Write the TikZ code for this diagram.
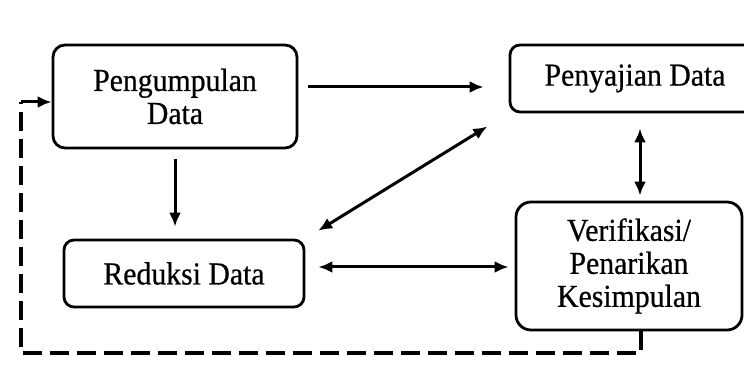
\documentclass[tikz,border=0pt]{standalone}
\usepackage{fontspec}
\setmainfont{Liberation Serif}[FakeStretch=0.93, FakeBold=0.6]
\usepackage{tikz}
\usepackage{xcolor}
\usetikzlibrary{positioning, calc, shapes, arrows.meta}
\tikzstyle{Box} = [
draw,
line width=2.8pt,
rounded corners=12pt,
align=center,
font=\fontsize{32}{33}\selectfont]
\tikzstyle{Arrow} = [
line width=3pt,
-{Latex[length=14pt,width=12pt]}]
\tikzstyle{DoubleArrow} = [
line width=3pt,
{Latex[length=14pt,width=12pt]}-{Latex[length=14pt,width=12pt]}]
\tikzstyle{DashLine} = [
line width=3.4pt,
dash pattern=on 19pt off 8pt]

\begin{document}
\begin{tikzpicture}[x=1pt, y=-1pt]
    \clip (0,0) rectangle (744,371);
    \node [Box, minimum width=244pt, minimum height=103pt] (1) at (175,96.5) {Pengumpulan\\Data};
    \node [Box, minimum width=250pt, minimum height=67pt, rounded corners=10pt] (2) at (635,78.5) {Penyajian Data};
    \node [Box, minimum width=240pt, minimum height=67pt, rounded corners=10pt] (3) at (184,273.5) {Reduksi Data};
    \node [Box, minimum width=226pt, minimum height=128pt, rounded corners=15pt] (4) at (629,266) {Verifikasi/\\Penarikan\\Kesimpulan};
    \coordinate (5) at (21,353);
    \coordinate (6) at (21,102);

    \draw[Arrow, shorten <=10pt, shorten >=25pt] ([yshift=9.5pt]1.east) -- ([yshift=9.5pt]1.east -| 2.west);
    \draw[Arrow, shorten <=10pt, shorten >=12pt] (1.south) -- (1.south |- 3.north);
    \draw[DoubleArrow, shorten <=15pt, shorten >=25pt] (3.north east) -- (2.south west);
    \draw[DoubleArrow, shorten <=5pt, shorten >=15pt] ([xshift=11pt]4.north) -- ([xshift=11pt]4.north |- 2.south);
    \draw[DoubleArrow, shorten <=13pt, shorten >=6pt] ([yshift=6.5pt]3.east) -- ([yshift=6.5pt]3.east -| 4.west);
    \draw[DashLine] ([xshift=12pt]4.south) |- (5) -- (6);
    \draw[Arrow] (6) -- (6 -| 1.west);
\end{tikzpicture}
\end{document}
